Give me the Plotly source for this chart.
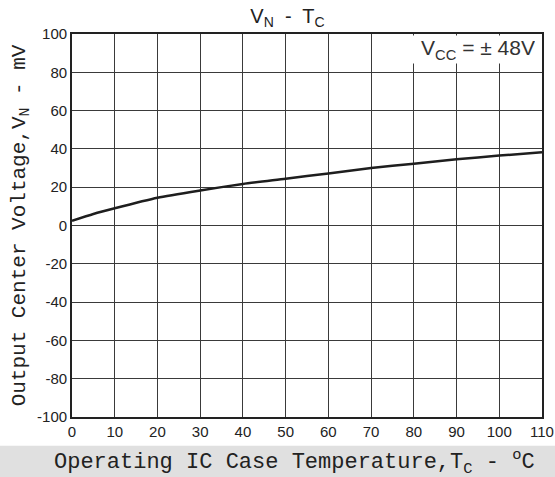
import plotly.graph_objects as go

temp_c = [0, 5, 10, 20, 30, 40, 50, 60, 70, 80, 90, 100, 110]
vn_mv = [2.5, 6, 9, 14.5, 18.3, 21.7, 24.4, 27.2, 30, 32.3, 34.6, 36.5, 38.3]

x_ticks = [0, 10, 20, 30, 40, 50, 60, 70, 80, 90, 100, 110]
y_ticks = [-100, -80, -60, -40, -20, 0, 20, 40, 60, 80, 100]
y_tick_text = ["-100", "-80", "-60", "-40", "-20", "0", "20", "40", "60", "80", "100"]

title_text = "V<sub>N</sub>  -  T<sub>C</sub>"
x_title = "Operating IC Case Temperature,T<sub>C</sub> - <sup>o</sup>C"
y_title = "Output Center Voltage,V<sub>N</sub> - mV"
cond_text = "V<sub>CC</sub> = ± 48V"

mono = "Liberation Mono, Courier New, monospace"
sans = "Liberation Sans, Arial, sans-serif"

fig = go.Figure()
fig.add_trace(go.Scatter(
    x=temp_c, y=vn_mv, mode="lines",
    line=dict(color="#1e1e1e", width=2.5, shape="spline", smoothing=0.6),
    showlegend=False, hoverinfo="skip",
))

fig.update_layout(
    width=555, height=477,
    margin=dict(l=72, r=13, t=34, b=60),
    paper_bgcolor="white", plot_bgcolor="white",
    title=dict(text=title_text, x=0.518, xanchor="center", y=0.982, yanchor="top",
               font=dict(family=sans, size=20, color="#222")),
    xaxis=dict(range=[0, 110], tickvals=x_ticks, ticktext=[str(v) for v in x_ticks],
               showgrid=True, gridcolor="#3a3a3a", gridwidth=1.3,
               showline=True, linecolor="#222", linewidth=1.8, mirror=True,
               ticks="", zeroline=False, automargin=False,
               tickfont=dict(family=sans, size=15, color="#222")),
    yaxis=dict(range=[-100, 100], tickvals=y_ticks, ticktext=y_tick_text,
               showgrid=True, gridcolor="#3a3a3a", gridwidth=1.3,
               showline=True, linecolor="#222", linewidth=1.8, mirror=True,
               ticks="", zeroline=False, automargin=False,
               tickfont=dict(family=sans, size=15, color="#222"),
               title=dict(text=y_title, standoff=6,
                          font=dict(family=mono, size=21, color="#222"))),
    shapes=[dict(type="rect", xref="paper", yref="paper", x0=-0.2, x1=1.1,
                 y0=-0.075, y1=-0.2, fillcolor="#e0e0e0", line=dict(width=0),
                 layer="below")],
)

# x-axis title placed as an annotation (offset left like the original)
fig.add_annotation(
    x=0.474, y=-0.118, xref="paper", yref="paper", xanchor="center", yanchor="middle",
    text=x_title, showarrow=False,
    font=dict(family=mono, size=22, color="#222"),
)

fig.add_annotation(
    x=108.9, y=99.4, xref="x", yref="y", xanchor="right", yanchor="top",
    text=cond_text, showarrow=False, align="right",
    font=dict(family=sans, size=21, color="#333"),
    bgcolor="white", width=130, height=25,
)

fig.write_html("out.html", config={"displayModeBar": False},
               post_script="document.body.style.margin='0';")
